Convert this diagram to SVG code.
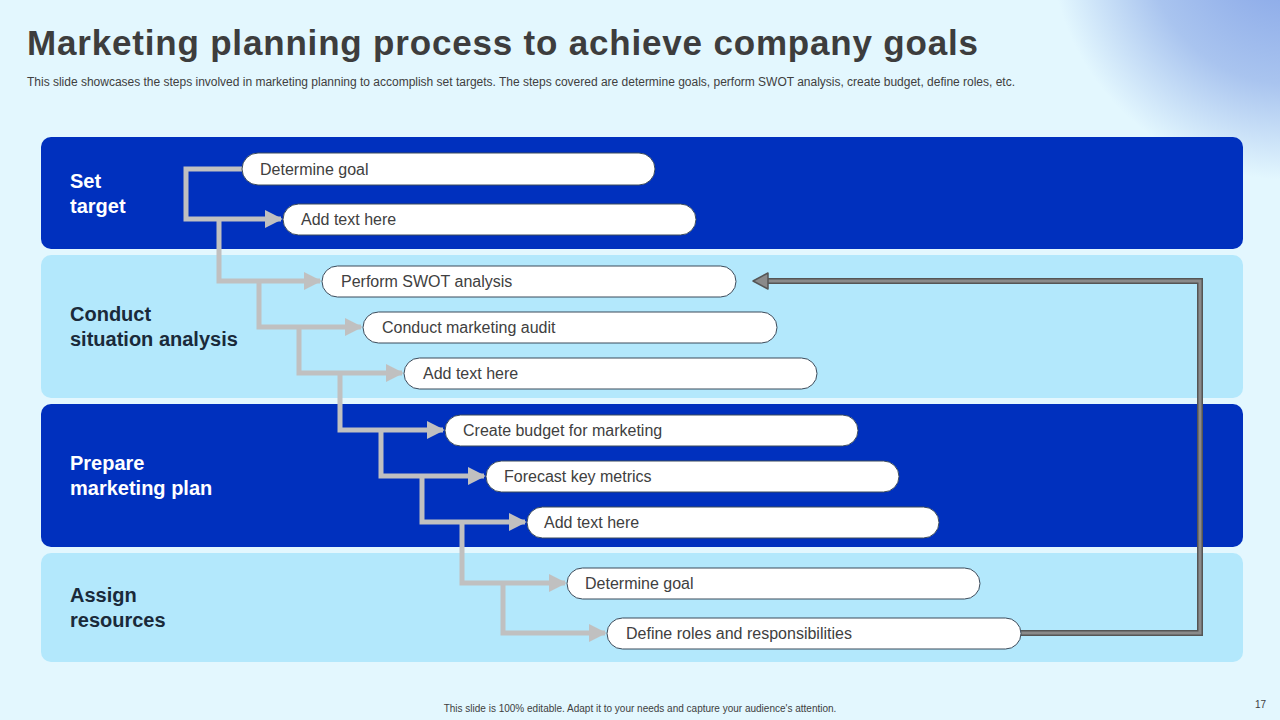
<svg xmlns="http://www.w3.org/2000/svg" width="1280" height="720" viewBox="0 0 1280 720">
<defs>
<radialGradient id="g" cx="1290" cy="-60" r="240" gradientUnits="userSpaceOnUse">
<stop offset="0" stop-color="#7f9fe6"/><stop offset="0.6" stop-color="#a9c4ef"/><stop offset="1" stop-color="#e3f7fe"/>
</radialGradient>
<marker id="a" viewBox="0 0 10 10" refX="9" refY="5" markerWidth="3.6" markerHeight="4" orient="auto" markerUnits="strokeWidth"><path d="M0,0L10,5L0,10Z" fill="#c0c0c0"/></marker>
<style>
.dk{fill:#0030be}.lt{fill:#b3e8fc}
.pill{fill:#fff;stroke:#3a4a5a;stroke-width:1}
.pt{font-family:"Liberation Sans",Arial,sans-serif;font-size:16px;fill:#404040}
.bl{font-family:"Liberation Sans",Arial,sans-serif;font-size:20px;font-weight:bold}
.c{fill:none;stroke:#c0c0c0;stroke-width:5;marker-end:url(#a)}
</style>
</defs>
<rect width="1280" height="720" fill="#e3f7fe"/>
<circle cx="1290" cy="-60" r="240" fill="url(#g)"/>
<text x="27" y="55" font-family="Liberation Sans,Arial,sans-serif" font-size="35" font-weight="bold" fill="#3d3d3d" textLength="951">Marketing planning process to achieve company goals</text>
<text x="27" y="86" font-family="Liberation Sans,Arial,sans-serif" font-size="12" fill="#404040" textLength="988">This slide showcases the steps involved in marketing planning to accomplish set targets. The steps covered are determine goals, perform SWOT analysis, create budget, define roles, etc.</text>
<g id="bands">
<rect class="dk" x="41" y="137" width="1202" height="112" rx="10"/>
<rect class="lt" x="41" y="255" width="1202" height="143" rx="10"/>
<rect class="dk" x="41" y="404" width="1202" height="143" rx="10"/>
<rect class="lt" x="41" y="553" width="1202" height="109" rx="10"/>
<text class="bl" x="70" y="188" fill="#fff">Set</text><text class="bl" x="70" y="213" fill="#fff">target</text>
<text class="bl" x="70" y="321" fill="#1a2a3a">Conduct</text><text class="bl" x="70" y="346" fill="#1a2a3a">situation analysis</text>
<text class="bl" x="70" y="470" fill="#fff">Prepare</text><text class="bl" x="70" y="495" fill="#fff">marketing plan</text>
<text class="bl" x="70" y="602" fill="#1a2a3a">Assign</text><text class="bl" x="70" y="627" fill="#1a2a3a">resources</text>
</g>
<g id="connectors">
<path class="c" d="M242,169H186V219H281"/>
<path class="c" d="M219,219V281H320"/>
<path class="c" d="M259,281V327H361"/>
<path class="c" d="M299,327V373H402"/>
<path class="c" d="M340,373V430H443"/>
<path class="c" d="M381,430V476H484"/>
<path class="c" d="M422,476V522H525"/>
<path class="c" d="M462,522V583H565"/>
<path class="c" d="M503,583V633H605"/>
<path d="M1021,633H1200V281H766" fill="none" stroke="#555" stroke-width="6"/>
<path d="M1021,633H1200V281H766" fill="none" stroke="#8a8a8a" stroke-width="3"/>
<path d="M753,281L768,273V289Z" fill="#8a8a8a" stroke="#555" stroke-width="1.5" stroke-linejoin="round"/>
</g>
<g id="n1"><rect class="pill" x="242" y="153" width="413" height="32" rx="16"/><text class="pt" x="260" y="175">Determine goal</text></g>
<g id="n2"><rect class="pill" x="283" y="204" width="413" height="31" rx="15.5"/><text class="pt" x="301" y="225">Add text here</text></g>
<g id="n3"><rect class="pill" x="322" y="266" width="414" height="31" rx="15.5"/><text class="pt" x="341" y="287">Perform SWOT analysis</text></g>
<g id="n4"><rect class="pill" x="363" y="312" width="414" height="31" rx="15.5"/><text class="pt" x="382" y="333">Conduct marketing audit</text></g>
<g id="n5"><rect class="pill" x="404" y="358" width="413" height="31" rx="15.5"/><text class="pt" x="423" y="379">Add text here</text></g>
<g id="n6"><rect class="pill" x="445" y="415" width="413" height="31" rx="15.5"/><text class="pt" x="463" y="436">Create budget for marketing</text></g>
<g id="n7"><rect class="pill" x="486" y="461" width="413" height="31" rx="15.5"/><text class="pt" x="504" y="482">Forecast key metrics</text></g>
<g id="n8"><rect class="pill" x="527" y="507" width="412" height="31" rx="15.5"/><text class="pt" x="544" y="528">Add text here</text></g>
<g id="n9"><rect class="pill" x="567" y="568" width="413" height="31" rx="15.5"/><text class="pt" x="585" y="589">Determine goal</text></g>
<g id="n10"><rect class="pill" x="607" y="618" width="414" height="31" rx="15.5"/><text class="pt" x="626" y="639">Define roles and responsibilities</text></g>
<text x="640" y="712" text-anchor="middle" font-family="Liberation Sans,Arial,sans-serif" font-size="10" fill="#404040">This slide is 100% editable.  Adapt it to your needs and capture your audience's attention.</text>
<text x="1266" y="708" text-anchor="end" font-family="Liberation Sans,Arial,sans-serif" font-size="10" fill="#404040">17</text>
</svg>
